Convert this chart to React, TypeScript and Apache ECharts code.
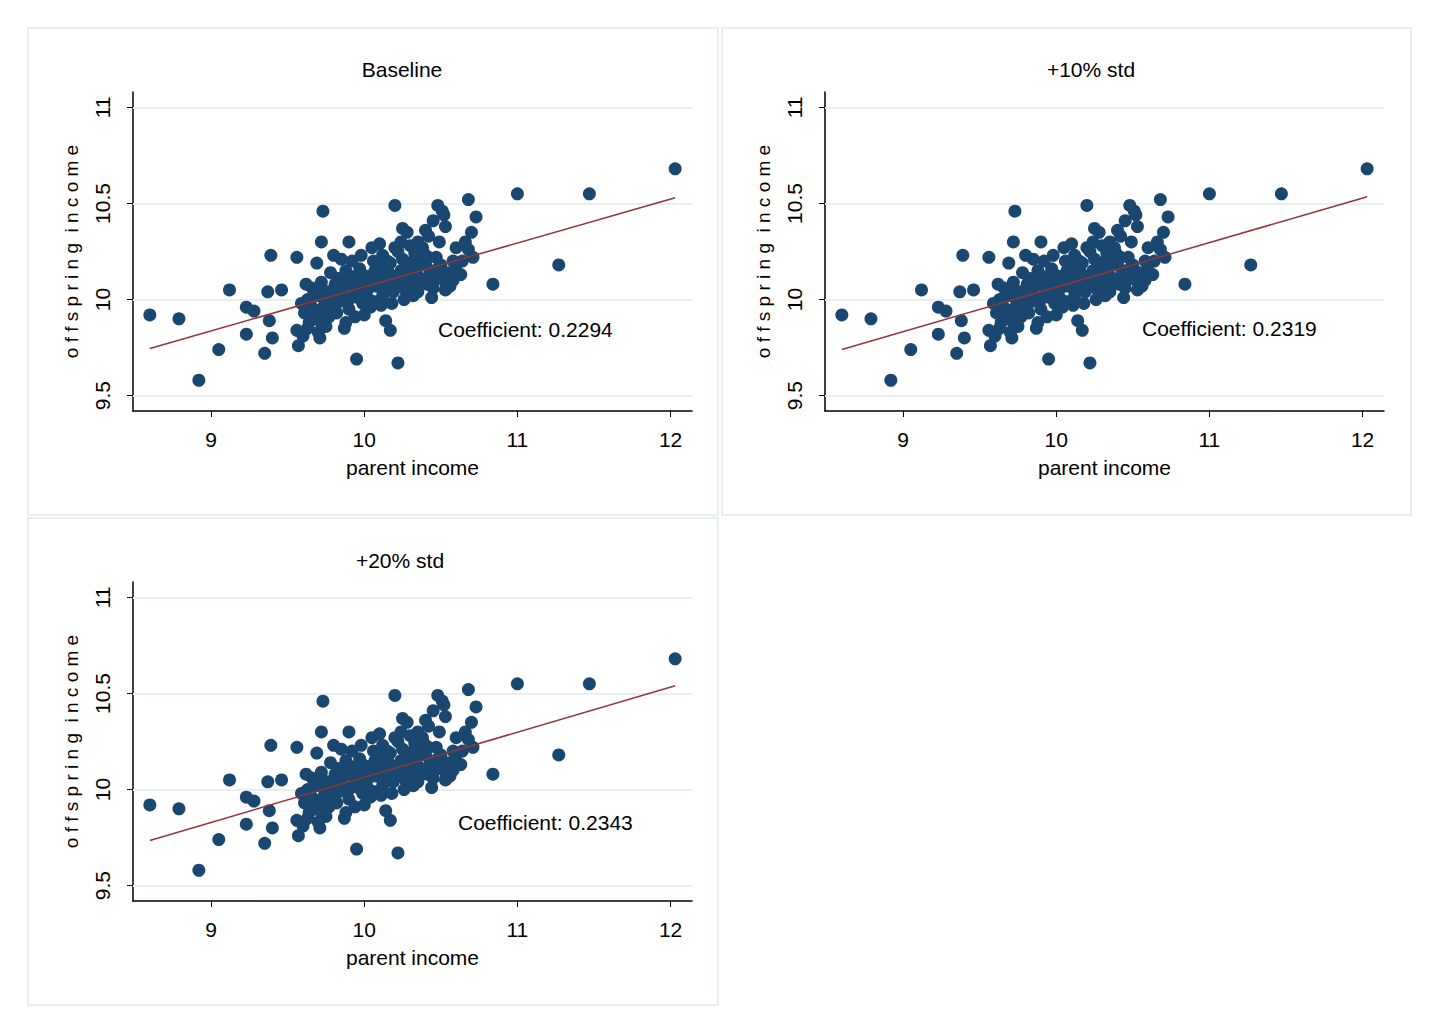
import React, { useEffect, useRef } from "react";
import * as echarts from "echarts";

const titles = ["Baseline", "+10% std", "+20% std"];
const coefficients = ["Coefficient: 0.2294", "Coefficient: 0.2319", "Coefficient: 0.2343"];
const lineX = [8.6, 12.03];
const lineY = [[9.745, 10.53], [9.74, 10.535], [9.735, 10.54]];
const xTicks = [9, 10, 11, 12];
const yTicks = [9.5, 10, 10.5, 11];

const points: number[][] = [
  [8.6, 9.92], [8.79, 9.9], [8.92, 9.58], [9.05, 9.74], [9.12, 10.05], [9.23, 9.96], [9.23, 9.82],
  [9.28, 9.94], [9.35, 9.72], [9.37, 10.04], [9.39, 10.23], [9.38, 9.89], [9.4, 9.8], [9.46, 10.05],
  [9.56, 10.22], [9.56, 9.84], [9.57, 9.76], [9.73, 10.46], [9.72, 10.3], [9.69, 10.19], [9.71, 9.8],
  [9.95, 9.69], [10.2, 10.49], [10.22, 9.67], [10.25, 10.37], [10.48, 10.49], [10.52, 10.44],
  [10.68, 10.52], [10.73, 10.43], [10.84, 10.08], [11.0, 10.55], [11.27, 10.18], [11.47, 10.55],
  [12.03, 10.68], [10.17, 9.84], [10.14, 9.89], [10.51, 10.46], [10.45, 10.41], [10.7, 10.35],
  [10.68, 10.26], [10.6, 10.27], [10.63, 10.13], [10.58, 10.1], [10.49, 10.3], [10.42, 10.33],
  [10.5, 10.18], [10.36, 10.2], [10.3, 10.28], [10.27, 10.16], [10.2, 10.27], [10.12, 10.23],
  [10.05, 10.27], [9.98, 10.23], [9.92, 10.2], [9.88, 10.15], [9.83, 10.11], [9.78, 10.14],
  [9.72, 10.09], [9.66, 10.06], [9.63, 10.0], [9.61, 9.93], [9.64, 9.88], [9.67, 9.95], [9.7, 10.02],
  [9.74, 9.97], [9.77, 9.91], [9.8, 10.05], [9.84, 9.99], [9.86, 10.07], [9.9, 9.95], [9.93, 10.03],
  [9.96, 10.1], [9.99, 9.98], [10.01, 10.04], [10.03, 10.12], [10.06, 9.99], [10.08, 10.07],
  [10.1, 10.15], [10.12, 10.02], [10.15, 10.1], [10.17, 10.19], [10.19, 10.04], [10.21, 10.12],
  [10.23, 10.07], [10.25, 10.21], [10.27, 10.05], [10.29, 10.13], [10.31, 10.09], [10.33, 10.17],
  [10.35, 10.04], [10.37, 10.11], [10.39, 10.24], [10.41, 10.08], [10.43, 10.15], [10.45, 10.06],
  [10.47, 10.22], [10.49, 10.12], [10.53, 10.05], [10.55, 10.14], [10.38, 10.27], [10.22, 10.25],
  [10.09, 10.19], [9.97, 10.16], [9.85, 10.21], [9.76, 10.04], [9.68, 9.9], [9.62, 10.08],
  [9.75, 9.86], [9.82, 9.93], [9.88, 9.88], [10.0, 9.92], [10.04, 9.96], [10.11, 9.97], [9.94, 9.91],
  [10.18, 9.98], [10.26, 10.0], [10.32, 10.02], [10.44, 10.01], [10.56, 10.07], [10.64, 10.2],
  [10.71, 10.22], [10.66, 10.3], [10.28, 10.35], [10.1, 10.29], [9.9, 10.3], [9.8, 10.23],
  [10.4, 10.36], [10.53, 10.38], [10.6, 10.15], [10.14, 10.08], [10.02, 10.01], [9.95, 10.06],
  [9.7, 9.83], [9.6, 9.81], [9.87, 9.85], [10.06, 10.2], [10.34, 10.14], [10.46, 10.1],
  [9.65, 9.97], [9.69, 10.04], [9.73, 9.93], [9.78, 10.0], [9.81, 10.08], [9.85, 10.03], [9.89, 10.1],
  [9.92, 10.07], [9.96, 10.01], [10.0, 10.09], [10.03, 10.06], [10.07, 10.12], [10.11, 10.06],
  [10.16, 10.14], [10.2, 10.09], [10.24, 10.15], [10.28, 10.1], [10.32, 10.2], [10.36, 10.08],
  [10.4, 10.18], [10.44, 10.12], [10.48, 10.16], [10.52, 10.1], [10.33, 10.24], [10.24, 10.3],
  [10.15, 10.2], [10.07, 10.15], [9.99, 10.13], [9.91, 10.12], [9.83, 10.05], [9.75, 10.0],
  [9.66, 9.92], [9.72, 9.88], [9.79, 9.96], [9.98, 10.04], [10.13, 10.11], [10.3, 10.05],
  [10.42, 10.22], [10.58, 10.2], [10.35, 10.3], [9.9, 10.0], [9.63, 9.85], [9.59, 9.98],
];

export default function App() {
  const ref = useRef<HTMLDivElement>(null);
  useEffect(() => {
    const chart = echarts.init(ref.current!, undefined, { renderer: "svg" });
    const grids = [
      { left: 125, top: 84, width: 559, height: 319 },
      { left: 817, top: 84, width: 559, height: 319 },
      { left: 125, top: 574, width: 559, height: 319 },
    ];
    const font = "Liberation Sans Narrow, Liberation Sans, Arial";
    const xAxis: any[] = [];
    const yAxis: any[] = [];
    const series: any[] = [];
    const graphic: any[] = [
      { type: "rect", shape: { x: 20, y: 20, width: 690, height: 487 }, style: { fill: "none", stroke: "#e6eef2", lineWidth: 2 } },
      { type: "rect", shape: { x: 714, y: 20, width: 689, height: 487 }, style: { fill: "none", stroke: "#e6eef2", lineWidth: 2 } },
      { type: "rect", shape: { x: 20, y: 510, width: 690, height: 487 }, style: { fill: "none", stroke: "#e6eef2", lineWidth: 2 } },
    ];
    const coefPos = [[430, 321], [1134, 320], [450, 814]];
    const titlePos = [[394, 61], [1083, 61], [392, 552]];
    grids.forEach((g, i) => {
      xAxis.push({
        gridIndex: i, type: "value", min: 8.49, max: 12.14, name: "parent income", nameLocation: "middle", nameGap: 46,
        nameTextStyle: { fontFamily: font, fontSize: 21, color: "#000" },
        axisLine: { lineStyle: { color: "#000", width: 1.5 } },
        axisTick: { customValues: xTicks, length: 6, lineStyle: { color: "#000" } },
        axisLabel: { customValues: xTicks, fontFamily: font, fontSize: 21, color: "#000", margin: 18 },
        splitLine: { show: false },
      });
      yAxis.push({
        gridIndex: i, type: "value", min: 9.42, max: 11.08, name: "o f f s p r i n g  i n c o m e", nameLocation: "middle", nameGap: 52,
        nameTextStyle: { fontFamily: font, fontSize: 19, color: "#000" },
        axisLine: { show: true, lineStyle: { color: "#000", width: 1.5 } },
        axisTick: { show: true, customValues: yTicks, length: 6, lineStyle: { color: "#000" } },
        axisLabel: { customValues: yTicks, rotate: 90, fontFamily: font, fontSize: 21, color: "#000", margin: 20 },
        splitLine: { show: false },
      });
      series.push({
        type: "scatter", xAxisIndex: i, yAxisIndex: i, data: points, symbolSize: 13,
        itemStyle: { color: "#1a476f", opacity: 1 },
        markLine: {
          silent: true, symbol: "none", label: { show: false },
          lineStyle: { color: "#e8eff3", type: "solid", width: 2 },
          data: yTicks.map((v) => ({ yAxis: v })),
          z: 1,
        },
        z: 3,
      });
      series.push({
        type: "line", xAxisIndex: i, yAxisIndex: i, data: [[lineX[0], lineY[i][0]], [lineX[1], lineY[i][1]]],
        symbol: "none", lineStyle: { color: "#90353b", width: 1.5 }, z: 4,
      });
      graphic.push({ type: "text", x: titlePos[i][0], y: titlePos[i][1], style: { text: titles[i], fontFamily: font, fontSize: 21, fill: "#000", textAlign: "center", textVerticalAlign: "middle" } });
      graphic.push({ type: "text", x: coefPos[i][0], y: coefPos[i][1], style: { text: coefficients[i], fontFamily: font, fontSize: 21, fill: "#000", textVerticalAlign: "middle" } });
    });
    chart.setOption({ animation: false, grid: grids, xAxis, yAxis, series, graphic });
    return () => chart.dispose();
  }, []);
  return <div ref={ref} style={{ width: 1417, height: 1013 }} />;
}
